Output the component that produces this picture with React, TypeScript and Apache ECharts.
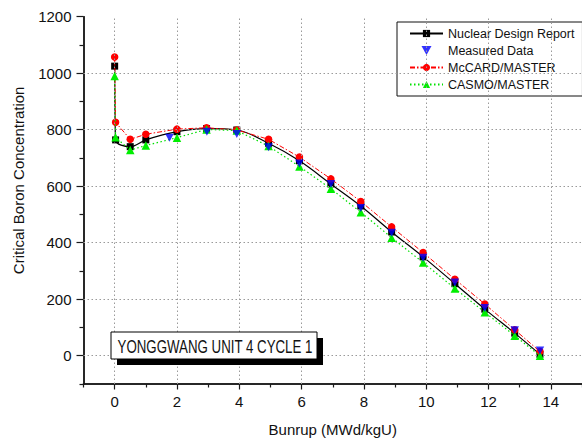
import React, { useEffect, useRef } from "react";
import * as echarts from "echarts";

const burnup = [0, 0.03, 0.5, 1, 2, 2.95, 3.92, 4.94, 5.93, 6.94, 7.9, 8.89, 9.9, 10.92, 11.88, 12.84, 13.65];
const designReport = [1025, 764, 740, 764, 793, 804, 799, 752, 690, 608, 530, 438, 350, 255, 165, 80, 5];
const mccardMaster = [1057, 826, 766, 784, 802, 807, 799, 766, 703, 626, 546, 456, 365, 271, 183, 92, 15];
const casmoMaster = [990, 773, 728, 744, 772, 801, 797, 742, 670, 591, 508, 418, 330, 238, 154, 71, 0];
const measuredBurnup = [1.76, 2.96, 3.92, 4.94, 5.93, 6.94, 7.9, 8.89, 9.9, 10.92, 11.88, 12.84, 13.65];
const measuredData = [772, 793, 785, 738, 680, 608, 523, 435, 347, 259, 169, 90, 19];

const xMajor = [0, 2, 4, 6, 8, 10, 12, 14];
const xMinor = [-1, 1, 3, 5, 7, 9, 11, 13, 15];
const yMajor = [0, 200, 400, 600, 800, 1000, 1200];
const yMinor = [-100, 100, 300, 500, 700, 900, 1100];
const yGrid = [0, 200, 400, 600, 800, 1000];

const FONT = "Liberation Sans, Arial, sans-serif";

export default function App() {
  const ref = useRef<HTMLDivElement>(null);
  useEffect(() => {
    if (!ref.current) return;
    const chart = echarts.init(ref.current, null, { renderer: "svg" });
    const axisLine = { show: true, onZero: false, lineStyle: { color: "#1a1a1a", width: 1.5 } };
    const pair = (xs: number[], ys: number[]) => xs.map((x, i) => [x, ys[i]]);
    const gridStyle = { color: "#9a9a9a", width: 1, type: [1.5, 2.5] as any };
    chart.setOption({
      animation: false,
      backgroundColor: "#ffffff",
      grid: { left: 83.5, right: -3.5, top: 16.7, bottom: 57 },
      xAxis: [
        {
          type: "value", min: -1, max: 15, interval: 1, position: "bottom",
          axisLine, splitLine: { show: false },
          axisTick: { show: true, length: 3.5, customValues: xMinor, lineStyle: { color: "#1a1a1a", width: 1.2 } },
          axisLabel: { show: false },
        },
        {
          type: "value", min: -1, max: 15, interval: 1, position: "bottom",
          axisLine, splitLine: { show: false },
          axisTick: { show: true, length: 5.5, customValues: xMajor, lineStyle: { color: "#1a1a1a", width: 1.2 } },
          axisLabel: { show: true, customValues: xMajor, color: "#111", fontSize: 15, fontFamily: FONT, margin: 10, formatter: (v: number) => String(v) },
          name: "Bunrup (MWd/kgU)", nameLocation: "middle", nameGap: 38,
          nameTextStyle: { color: "#111", fontSize: 15, fontFamily: FONT },
        },
      ],
      yAxis: [
        {
          type: "value", min: -100, max: 1200, interval: 100, position: "left",
          axisLine, splitLine: { show: false },
          axisTick: { show: true, length: 4, customValues: yMinor, lineStyle: { color: "#1a1a1a", width: 1.2 } },
          axisLabel: { show: false },
        },
        {
          type: "value", min: -100, max: 1200, interval: 100, position: "left",
          axisLine, splitLine: { show: false },
          axisTick: { show: true, length: 7, customValues: yMajor, lineStyle: { color: "#1a1a1a", width: 1.2 } },
          axisLabel: { show: true, customValues: yMajor, color: "#111", fontSize: 15, fontFamily: FONT, margin: 12, formatter: (v: number) => String(v) },
          name: "Critical Boron Concentration", nameLocation: "middle", nameGap: 58,
          nameTextStyle: { color: "#111", fontSize: 15, fontFamily: FONT, padding: [0, 0, 0, 40] },
        },
      ],
      legend: {
        orient: "vertical",
        left: 397, top: 22,
        width: 180,
        padding: [5, 8, 5, 12],
        itemWidth: 33, itemHeight: 9, itemGap: 4,
        backgroundColor: "#ffffff",
        borderColor: "#111", borderWidth: 1,
        textStyle: { color: "#111", fontSize: 12.5, fontFamily: FONT },
        data: ["Nuclear Design Report", "Measured Data", "McCARD/MASTER", "CASMO/MASTER"],
      },
      graphic: [
        { type: "rect", shape: { x: 117, y: 338, width: 206, height: 27 }, style: { fill: "#000" }, z: 100 },
        { type: "rect", shape: { x: 111, y: 332, width: 206, height: 27 }, style: { fill: "#fff", stroke: "#000", lineWidth: 1 }, z: 101 },
        {
          type: "text", x: 215, y: 346, scaleX: 0.7, z: 102,
          style: { text: "YONGGWANG UNIT 4 CYCLE 1", fill: "#111", font: "19px " + FONT, textAlign: "center", textVerticalAlign: "middle" },
        },
      ],
      series: [
        {
          name: "grid", type: "line", data: [], silent: true,
          markLine: {
            silent: true, symbol: "none", label: { show: false }, lineStyle: gridStyle, animation: false,
            data: [...xMajor.map((v) => ({ xAxis: v })), ...yGrid.map((v) => ({ yAxis: v }))],
          },
          z: 1,
        },
        {
          name: "Nuclear Design Report", type: "line", smooth: 0.35,
          data: pair(burnup, designReport),
          symbol: "rect", symbolSize: 7,
          itemStyle: { color: "#000" }, lineStyle: { color: "#000", width: 1.2 }, z: 3,
        },
        {
          name: "McCARD/MASTER", type: "line",
          data: pair(burnup, mccardMaster),
          symbol: "circle", symbolSize: 7.5,
          itemStyle: { color: "#ff0000" }, lineStyle: { color: "#ff0000", width: 1, type: [5, 2, 1.5, 2] }, z: 4,
        },
        {
          name: "CASMO/MASTER", type: "line",
          data: pair(burnup, casmoMaster),
          symbol: "triangle", symbolSize: 8.5,
          itemStyle: { color: "#00ee00" }, lineStyle: { color: "#00e000", width: 1.2, type: [1.5, 2.5] }, z: 5,
        },
        {
          name: "Measured Data", type: "scatter",
          data: pair(measuredBurnup, measuredData),
          symbol: "path://M0,0 L10,0 L5,9 Z", symbolSize: [8.5, 8],
          itemStyle: { color: "#0000ff" }, z: 6,
        },
      ],
    });
    return () => chart.dispose();
  }, []);
  return <div ref={ref} style={{ position: "fixed", left: 0, top: 0, width: 582, height: 442, background: "#fff" }} />;
}
